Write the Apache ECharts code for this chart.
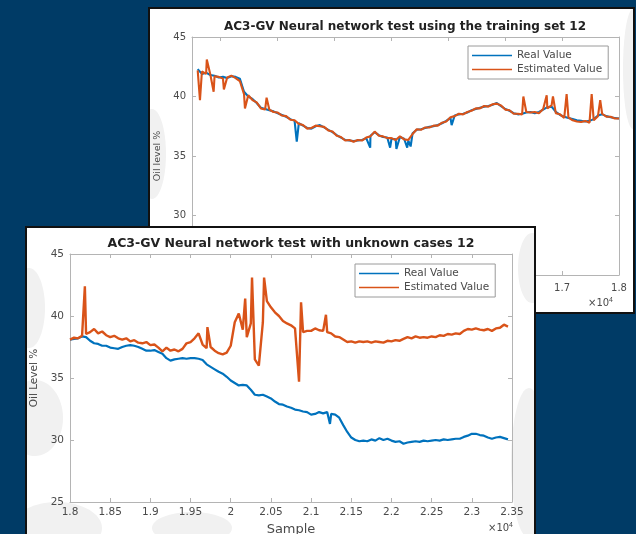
<!DOCTYPE html>
<html>
<head>
<meta charset="utf-8">
<script src="https://cdn.jsdelivr.net/npm/echarts@6/dist/echarts.min.js"></script>
<style>
  html, body { margin: 0; padding: 0; width: 636px; height: 534px; overflow: hidden; background: #003b66; }
  .panel { position: absolute; background: #ffffff; outline: 2px solid #111111; }
  #train { left: 150px; top: 9px; width: 483px; height: 303px; }
  #unknown { left: 27px; top: 228px; width: 507px; height: 308px; }
</style>
</head>
<body>
<div id="train" class="panel"></div>
<div id="unknown" class="panel"></div>
<script>
// ---------- training-set run (samples 10600 .. 18000, every 74) ----------
const trainStart = 10600;
const trainStep = 74;
const trainReal = [
  42.3, 41.9, 42.0, 41.8, 41.75, 41.6, 41.65, 41.55, 41.7, 41.65,
  41.5, 40.4, 40.0, 39.8, 39.45, 39.05, 38.95, 38.85, 38.75, 38.6,
  38.45, 38.3, 38.1, 37.95, 37.75, 37.55, 37.35, 37.3, 37.5, 37.6,
  37.4, 37.2, 37.0, 36.75, 36.55, 36.35, 36.3, 36.25, 36.3, 36.35,
  36.5, 36.7, 37.0, 36.75, 36.6, 36.55, 36.45, 36.4, 36.6, 36.45,
  36.3, 36.9, 37.2, 37.25, 37.35, 37.45, 37.5, 37.6, 37.75, 37.95,
  38.2, 38.4, 38.5, 38.55, 38.65, 38.85, 38.95, 39.05, 39.15, 39.2,
  39.3, 39.45, 39.2, 38.95, 38.8, 38.6, 38.5, 38.55, 38.65, 38.7,
  38.6, 38.7, 38.9, 39.1, 39.15, 38.7, 38.45, 38.3, 38.2, 38.1,
  38.0, 37.95, 37.9, 37.95, 38.1, 38.4, 38.5, 38.35, 38.25, 38.2,
  38.15
];
const trainEst = [
  42.2, 42.1, 41.9, 41.85, 41.7, 41.65, 41.5, 41.6, 41.75, 41.55,
  41.3, 40.2, 40.1, 39.7, 39.5, 39.0, 38.9, 38.9, 38.7, 38.65,
  38.4, 38.35, 38.05, 38.0, 37.7, 37.6, 37.3, 37.35, 37.55, 37.5,
  37.45, 37.15, 37.05, 36.7, 36.6, 36.3, 36.35, 36.2, 36.35, 36.3,
  36.55, 36.65, 37.05, 36.7, 36.65, 36.5, 36.5, 36.35, 36.65, 36.4,
  36.35, 36.85, 37.25, 37.2, 37.4, 37.4, 37.55, 37.55, 37.8, 37.9,
  38.25, 38.35, 38.55, 38.5, 38.7, 38.8, 39.0, 39.0, 39.2, 39.15,
  39.35, 39.4, 39.25, 38.9, 38.85, 38.55, 38.55, 38.5, 38.7, 38.65,
  38.7, 38.6, 38.95, 39.0, 39.25, 38.6, 38.5, 38.2, 38.25, 38.0,
  37.9, 37.85, 37.95, 37.8, 38.0, 38.35, 38.55, 38.3, 38.3, 38.15,
  38.15
];
// isolated single-sample excursions [sample, value]
const trainRealSpikes = [[12340, 36.2], [13630, 35.7], [13980, 35.7], [14090, 35.6], [14280, 35.7], [14340, 35.8], [15060, 37.6]];
const trainEstSpikes = [[10640, 39.7], [10760, 43.1], [10880, 40.4], [11060, 40.6], [11430, 39.0], [11810, 39.9],
                        [16320, 40.0], [16730, 40.1], [16840, 40.0], [17080, 40.2], [17520, 40.2], [17670, 39.7]];
const trainTicks = [11000, 12000, 13000, 14000, 15000, 16000, 17000, 18000];

// ---------- unknown-case run (samples 18000 .. 23450, every 50) ----------
const unkStart = 18000;
const unkStep = 50;
const unkReal = [
  38.1, 38.15, 38.2, 38.35, 38.3, 38.0, 37.8, 37.75, 37.6, 37.6,
  37.45, 37.4, 37.35, 37.5, 37.6, 37.65, 37.6, 37.5, 37.35, 37.2,
  37.2, 37.25, 37.1, 36.95, 36.6, 36.4, 36.5, 36.55, 36.6, 36.55,
  36.6, 36.6, 36.55, 36.45, 36.1, 35.9, 35.7, 35.5, 35.35, 35.1,
  34.8, 34.6, 34.4, 34.45, 34.4, 34.05, 33.65, 33.6, 33.65, 33.5,
  33.35, 33.1, 32.9, 32.85, 32.7, 32.6, 32.45, 32.4, 32.3, 32.25,
  32.05, 32.1, 32.25, 32.15, 32.25, 32.1, 32.05, 31.8, 31.2, 30.65,
  30.2, 30.0, 29.9, 29.95, 29.9, 30.05, 29.95, 30.15, 30.0, 30.1,
  29.95, 29.85, 29.9, 29.7, 29.8, 29.85, 29.9, 29.85, 29.95, 29.9,
  29.95, 30.0, 29.95, 30.05, 30.0, 30.05, 30.1, 30.1, 30.25, 30.35,
  30.5, 30.5, 30.4, 30.35, 30.2, 30.1, 30.2, 30.25, 30.15, 30.05
];
const unkEst = [
  38.1, 38.25, 38.2, 38.4, 38.55, 38.7, 38.95, 38.6, 38.75, 38.45,
  38.3, 38.4, 38.2, 38.1, 38.2, 37.95, 38.05, 37.85, 37.8, 37.9,
  37.65, 37.7, 37.45, 37.15, 37.45, 37.2, 37.3, 37.15, 37.35, 37.8,
  37.9, 38.2, 38.6, 37.7, 37.4, 37.5, 37.2, 37.0, 36.9, 37.05,
  37.6, 39.5, 40.2, 38.9, 38.3, 39.4, 36.5, 36.0, 39.5, 41.2,
  40.7, 40.3, 40.0, 39.6, 39.4, 39.25, 39.0, 34.7, 38.7, 38.8,
  38.8, 39.0, 38.85, 38.8, 38.7, 38.6, 38.35, 38.3, 38.1, 37.9,
  37.95, 37.85, 37.95, 37.9, 37.95, 37.85, 37.95, 37.9, 37.85, 38.0,
  37.95, 38.05, 38.0, 38.15, 38.3, 38.2, 38.35, 38.25, 38.3, 38.25,
  38.35, 38.3, 38.45, 38.4, 38.55, 38.5, 38.6, 38.55, 38.8, 38.95,
  38.9, 39.0, 38.9, 38.85, 38.95, 38.8, 39.0, 39.05, 39.3, 39.15
];
const unkRealSpikes = [[21235, 31.3]];
const unkEstSpikes = [[18185, 42.4], [19710, 39.1], [20180, 41.4], [20265, 43.1], [20415, 43.1], [20875, 41.1], [21185, 40.1]];

const seriesNames = ['Real Value', 'Estimated Value'];

const BLUE = '#0072BD';
const ORANGE = '#D95319';
const BOX = '#b4b4b4';
const LABEL = '#4a4a4a';
const WATERMARK = '#f1f1f1';
const FONT = '"DejaVu Sans", Verdana, sans-serif';

function toPoints(start, step, values, spikes) {
  const pts = values.map((v, i) => [start + i * step, v]);
  return pts.concat(spikes).sort((a, b) => a[0] - b[0]);
}

function sampleLabel(v) {
  return String(parseFloat((v / 10000).toFixed(2)));
}

// pale background blots of the slide's paper texture
function blots(list) {
  return list.map(b => ({
    type: 'ellipse', z: -10, silent: true,
    shape: { cx: b[0], cy: b[1], rx: b[2], ry: b[3] },
    style: { fill: WATERMARK }
  }));
}

function buildOption(c) {
  const tickStyle = { color: BOX, width: 1 };
  const xBase = {
    type: 'value', min: c.xMin, max: c.xMax,
    axisLine: { onZero: false, lineStyle: { color: BOX, width: 1 } },
    splitLine: { show: false }
  };
  if (c.xInterval) xBase.interval = c.xInterval;
  const xTick = { inside: true, length: 4, lineStyle: tickStyle };
  if (c.xTicks) xTick.customValues = c.xTicks;
  const xLab = { color: LABEL, fontSize: c.tickSize, fontFamily: FONT, margin: c.xLabelMargin, formatter: sampleLabel };
  if (c.xTicks) xLab.customValues = c.xTicks;
  const yBase = {
    type: 'value', min: 25, max: 45, interval: 5,
    axisLine: { show: true, lineStyle: { color: BOX, width: 1 } },
    splitLine: { show: false }
  };
  return {
    animation: false,
    grid: Object.assign({ containLabel: false, outerBoundsMode: 'none' }, c.grid),
    xAxis: [
      Object.assign({}, xBase, {
        position: 'bottom', axisTick: xTick, axisLabel: xLab,
        name: c.xName || '', nameLocation: 'middle', nameGap: c.xNameGap || 20,
        nameTextStyle: { color: LABEL, fontSize: 13, fontFamily: FONT }
      }),
      Object.assign({}, xBase, {
        position: 'top', axisTick: Object.assign({}, xTick), axisLabel: { show: false }
      })
    ],
    yAxis: [
      Object.assign({}, yBase, {
        position: 'left',
        axisTick: { inside: true, length: 4, lineStyle: tickStyle },
        axisLabel: { color: LABEL, fontSize: c.tickSize, fontFamily: FONT, margin: 6 },
        name: c.yName, nameLocation: 'middle', nameGap: c.yNameGap, nameRotate: 90,
        nameTextStyle: { color: LABEL, fontSize: c.yNameSize, fontFamily: FONT }
      }),
      Object.assign({}, yBase, {
        position: 'right',
        axisTick: { inside: true, length: 4, lineStyle: tickStyle },
        axisLabel: { show: false }
      })
    ],
    legend: {
      data: seriesNames, orient: 'vertical', left: c.legend.left, top: c.legend.top,
      itemWidth: 40, itemHeight: 1.5, itemGap: 3, icon: 'rect',
      padding: [4, 6, 4, 4], borderColor: '#9a9a9a', borderWidth: 1,
      backgroundColor: '#ffffff',
      textStyle: { color: LABEL, fontSize: 10.5, fontFamily: FONT }
    },
    graphic: blots(c.blots).concat([
      {
        type: 'text', x: c.title.x, y: c.title.y,
        style: { text: c.title.text, fill: '#222', font: 'bold ' + c.title.size + 'px ' + FONT,
                 textAlign: 'center', textVerticalAlign: 'middle' }
      },
      {
        type: 'text', x: c.exp.x, y: c.exp.y,
        style: {
          text: '×10{s|4}', fill: LABEL, font: '10px ' + FONT, textAlign: 'right', textVerticalAlign: 'middle',
          rich: { s: { fontSize: 7, fill: LABEL, padding: [0, 0, 6, 0] } }
        }
      }
    ]),
    series: [
      { name: seriesNames[0], type: 'line', data: c.real, showSymbol: false, symbol: 'none',
        lineStyle: { color: BLUE, width: c.realWidth }, itemStyle: { color: BLUE }, z: 2 },
      { name: seriesNames[1], type: 'line', data: c.est, showSymbol: false, symbol: 'none',
        lineStyle: { color: ORANGE, width: c.estWidth }, itemStyle: { color: ORANGE }, z: 3 }
    ]
  };
}

const trainChart = echarts.init(document.getElementById('train'), null, { renderer: 'canvas' });
trainChart.setOption(buildOption({
  grid: { left: 42, top: 28, right: 14, bottom: 37 },
  xMin: 10500, xMax: 18000, xTicks: trainTicks, xLabelMargin: 8, tickSize: 10,
  yName: 'Oil level %', yNameGap: 28, yNameSize: 9.5,
  legend: { left: 318, top: 37 },
  title: { text: 'AC3-GV Neural network test using the training set 12', x: 255, y: 18, size: 12 },
  exp: { x: 463, y: 294 },
  blots: [[2, 145, 14, 45], [483, 60, 10, 60]],
  realWidth: 2.1, estWidth: 2.1,
  real: toPoints(trainStart, trainStep, trainReal, trainRealSpikes),
  est: toPoints(trainStart, trainStep, trainEst, trainEstSpikes)
}));

const unkChart = echarts.init(document.getElementById('unknown'), null, { renderer: 'canvas' });
unkChart.setOption(buildOption({
  grid: { left: 43, top: 26, right: 22, bottom: 34 },
  xMin: 18000, xMax: 23500, xInterval: 500, xLabelMargin: 5, tickSize: 10.5,
  xName: 'Sample', xNameGap: 19,
  yName: 'Oil Level %', yNameGap: 30, yNameSize: 10.5,
  legend: { left: 328, top: 36 },
  title: { text: 'AC3-GV Neural network test with unknown cases 12', x: 264, y: 16, size: 12.5 },
  exp: { x: 486, y: 300 },
  blots: [[2, 80, 16, 40], [8, 190, 28, 38], [30, 300, 45, 26], [165, 300, 40, 16], [502, 235, 18, 75], [505, 40, 14, 35]],
  realWidth: 2.2, estWidth: 2.4,
  real: toPoints(unkStart, unkStep, unkReal, unkRealSpikes),
  est: toPoints(unkStart, unkStep, unkEst, unkEstSpikes)
}));
</script>
</body>
</html>
